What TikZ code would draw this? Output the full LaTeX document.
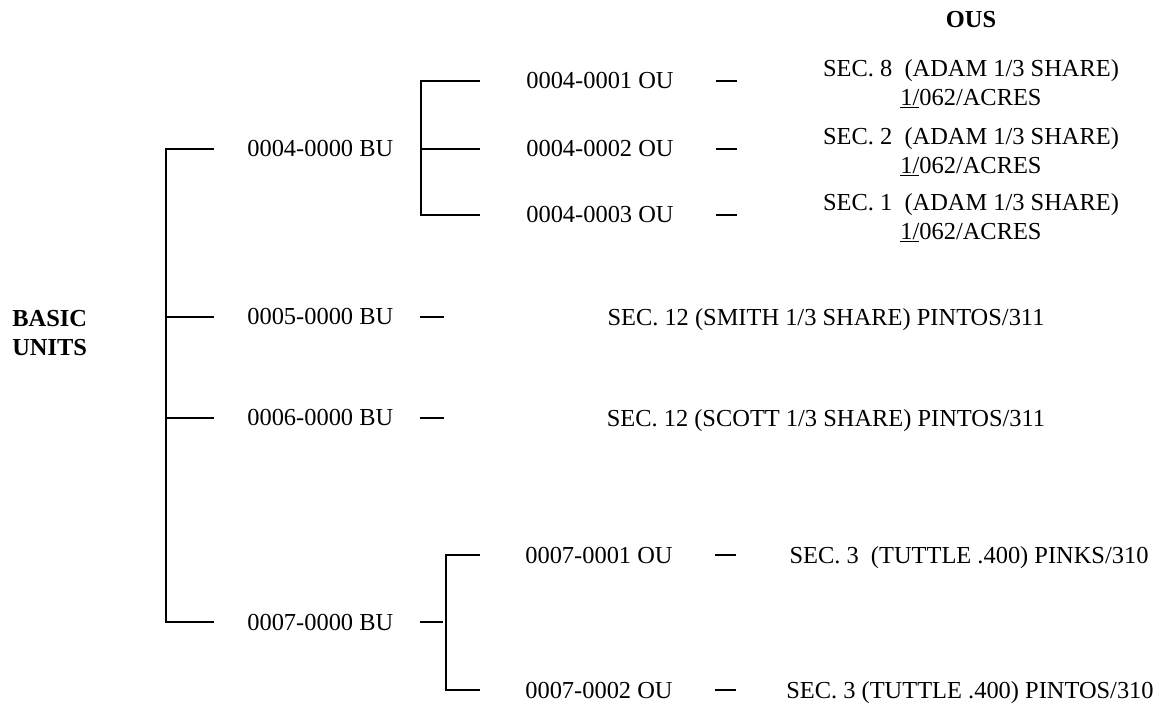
\documentclass[tikz,border=0pt]{standalone}
\usepackage{fontspec}
\setmainfont{Liberation Serif}
\usepackage{tikz}
\usetikzlibrary{positioning}

\tikzset{
  unit/.style={font=\fontsize{13.9}{16.5}\selectfont, inner sep=0pt, anchor=west},
  desc/.style={font=\fontsize{13.9}{16.5}\selectfont, inner sep=0pt, align=center, yshift=-0.06cm},
  head/.style={font=\fontsize{13.9}{16.5}\selectfont\bfseries, inner sep=0pt},
  tree/.style={line width=1pt}
}

\begin{document}
\begin{tikzpicture}
  \useasboundingbox (0,0) rectangle (23.28,14.08);

  \node[head, anchor=west, align=left] (basic) at (0.24,7.42) {BASIC\\UNITS};
  \node[head] (ous) at (19.42,13.68) {OUS};

  % basic units
  \node[unit] (bu4) at (4.94,11.1) {0004-0000 BU};
  \node[unit] (bu5) at (4.94,7.74) {0005-0000 BU};
  \node[unit] (bu6) at (4.94,5.72) {0006-0000 BU};
  \node[unit] (bu7) at (4.94,1.64) {0007-0000 BU};

  % operating units
  \node[unit] (ou41) at (10.52,12.46) {0004-0001 OU};
  \node[unit] (ou42) at (10.52,11.1) {0004-0002 OU};
  \node[unit] (ou43) at (10.52,9.78) {0004-0003 OU};
  \node[unit] (ou71) at (10.5,2.98) {0007-0001 OU};
  \node[unit] (ou72) at (10.5,0.28) {0007-0002 OU};

  % descriptions
  \node[desc] (d41) at (19.42,12.46) {SEC. 8\ \ (ADAM 1/3 SHARE)\\\underline{1/}062/ACRES};
  \node[desc] (d42) at (19.42,11.1) {SEC. 2\ \ (ADAM 1/3 SHARE)\\\underline{1/}062/ACRES};
  \node[desc] (d43) at (19.42,9.78) {SEC. 1\ \ (ADAM 1/3 SHARE)\\\underline{1/}062/ACRES};
  \node[desc] (d5) at (16.52,7.74) {SEC. 12 (SMITH 1/3 SHARE) PINTOS/311};
  \node[desc] (d6) at (16.52,5.72) {SEC. 12 (SCOTT 1/3 SHARE) PINTOS/311};
  \node[desc] (d71) at (19.38,2.98) {SEC. 3\ \ (TUTTLE .400) PINKS/310};
  \node[desc] (d72) at (19.4,0.28) {SEC. 3 (TUTTLE .400) PINTOS/310};

  % main bracket
  \draw[tree] ([xshift=-0.66cm]bu4.west) -- ++(-0.96,0) |- ([xshift=-0.66cm]bu7.west);
  \draw[tree] ([xshift=-0.66cm]bu5.west) -- ++(-0.96,0);
  \draw[tree] ([xshift=-0.66cm]bu6.west) -- ++(-0.96,0);

  % 0004 bracket
  \draw[tree] ([xshift=-0.92cm]ou41.west) -- ++(-1.18,0) |- ([xshift=-0.92cm]ou43.west);
  \draw[tree] ([xshift=-0.92cm]ou42.west) -- ++(-1.18,0);

  % 0007 bracket
  \draw[tree] ([xshift=-0.9cm]ou71.west) -- ++(-0.68,0) |- ([xshift=-0.9cm]ou72.west);
  \draw[tree] ([xshift=0.52cm]bu7.east) -- ++(0.46,0);

  % dashes
  \draw[tree] ([xshift=0.52cm]bu5.east) -- ++(0.48,0);
  \draw[tree] ([xshift=0.52cm]bu6.east) -- ++(0.48,0);
  \foreach \n in {ou41,ou42,ou43,ou71,ou72}
    \draw[tree] ([xshift=0.84cm]\n.east) -- ++(0.42,0);
\end{tikzpicture}
\end{document}
